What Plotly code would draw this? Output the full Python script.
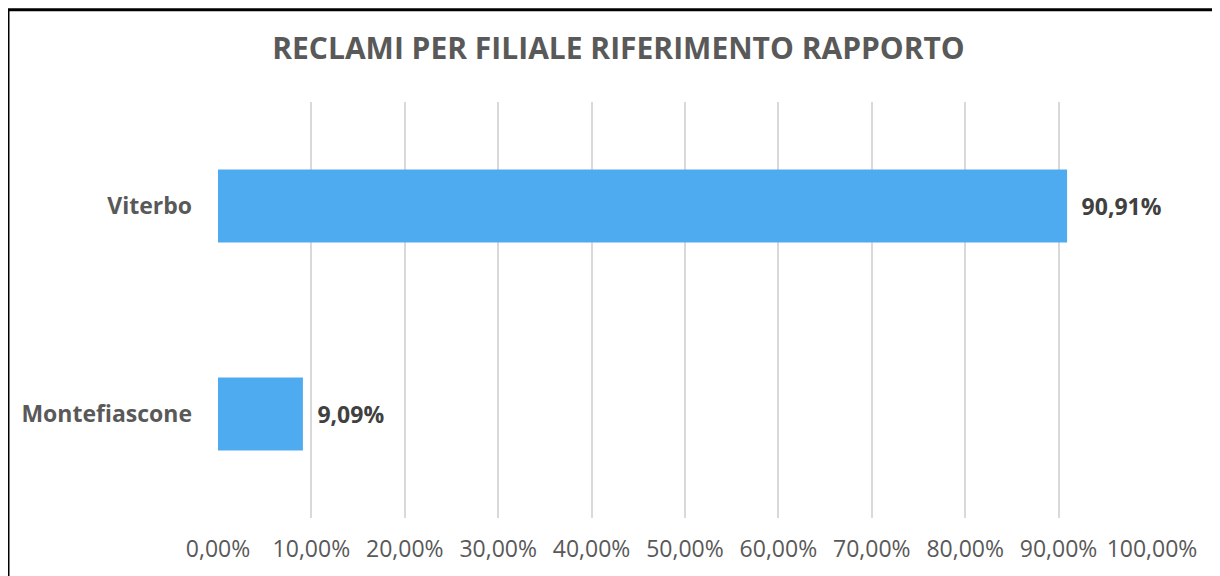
import plotly.graph_objects as go

categories = ["Montefiascone", "Viterbo"]
values = [0.0909, 0.9091]
tick_vals = [0, 0.1, 0.2, 0.3, 0.4, 0.5, 0.6, 0.7, 0.8, 0.9, 1.0]
title_text = "RECLAMI PER FILIALE RIFERIMENTO RAPPORTO"

# page has an 8px body margin, so figure is 8px smaller and shifted
W, H = 1212, 568
L, R, T, B = 210, 68, 94, 50
pw, ph = W - L - R, H - T - B

fig = go.Figure(go.Bar(
    x=values, y=categories, orientation="h",
    marker=dict(color="#4FABF0", line=dict(width=0)),
    texttemplate="\u2002<b>%{x:.2%}</b>", textposition="outside",
    textfont=dict(family="Open Sans", size=23, color="#404040"),
    cliponaxis=False,
))

fig.update_layout(
    width=W, height=H,
    margin=dict(l=L, r=R, t=T, b=B),
    paper_bgcolor="white", plot_bgcolor="white",
    separators=",.",
    bargap=0.65,
    showlegend=False,
    title=dict(text="<b>" + title_text + "</b>", x=610.5 / W, xanchor="center",
               y=1 - 40 / H, yanchor="middle",
               font=dict(family="Open Sans", size=30, color="#595959")),
    xaxis=dict(range=[0, 1], tickvals=tick_vals, tickformat=".2%",
               showgrid=True, gridcolor="#D9D9D9", gridwidth=2,
               zeroline=False, showline=False, ticks="",
               tickfont=dict(family="Open Sans", size=23, color="#595959"),
               ticklabelstandoff=15),
    yaxis=dict(showgrid=False, zeroline=False, showline=False, ticks="",
               tickfont=dict(family="Open Sans", size=23, color="#595959"),
               ticklabelstandoff=25),
)
fig.update_yaxes(tickprefix="<b>", ticksuffix="</b>")

# chart frame
fig.add_shape(type="rect", xref="paper", yref="paper",
              x0=(0 - L) / pw, x1=(1240 - L) / pw,
              y0=-(600 - (T + ph)) / ph, y1=(T + ph - 0) / ph,
              line=dict(color="black", width=3), fillcolor="rgba(0,0,0,0)", layer="above")

fig.write_html("out.html")
